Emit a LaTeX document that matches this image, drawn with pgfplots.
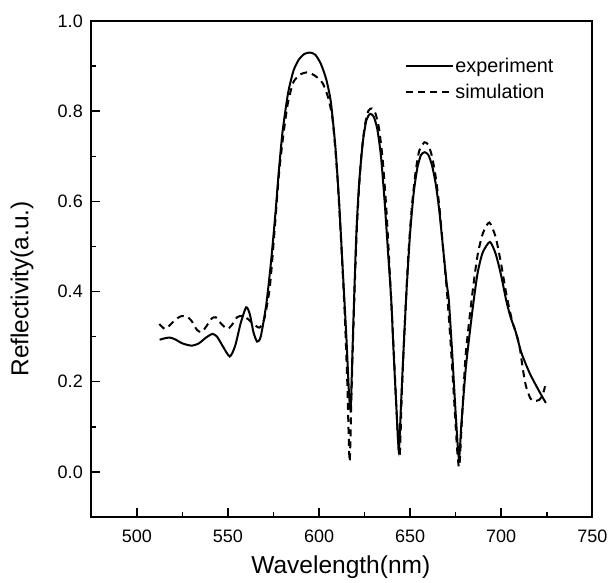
\documentclass[border=0pt]{standalone}
\usepackage{pgfplots}
\pgfplotsset{compat=1.18}
\usepackage{fontspec}
\setmainfont{Liberation Sans}
\begin{document}
\begin{tikzpicture}
\useasboundingbox (-91.3pt,-66pt) rectangle (516.7pt,517pt);
\begin{axis}[
  at={(0pt,0pt)}, anchor=south west,
  scale only axis, width=501pt, height=496pt,
  xmin=475, xmax=750, ymin=-0.1, ymax=1.0,
  xtick={500,550,600,650,700,750},
  ytick={0,0.2,0.4,0.6,0.8,1.0},
  minor x tick num=1, minor y tick num=1,
  tick pos=left, tick align=inside,
  major tick length=8.5pt, minor tick length=4.5pt,
  every tick/.style={line width=1.5pt, black},
  axis line style={line width=2pt},
  /pgf/number format/assume math mode=true,
  ticklabel style={font=\fontsize{18}{20}\selectfont},
  yticklabel style={/pgf/number format/fixed,/pgf/number format/fixed zerofill,/pgf/number format/precision=1, xshift=-5pt},
  xticklabel style={/pgf/number format/1000 sep={}, yshift=-9pt},
  xlabel={Wavelength(nm)}, ylabel={Reflectivity(a.u.)},
  label style={font=\fontsize{24.5}{27}\selectfont},
  xlabel style={at={(axis description cs:0.498,-0.101)}, anchor=center},
  ylabel style={at={(axis description cs:-0.138,0.46)}, anchor=center, rotate=0},
  legend style={at={(axis description cs:0.925,0.928)}, anchor=north east, draw=none, fill=none,
    font=\fontsize{19.8}{21}\selectfont, row sep=8pt, inner sep=0pt, nodes={inner sep=1.2pt}},
  legend cell align=left,
  legend image code/.code={\draw[#1] (0pt,0pt) -- (47pt,0pt);},
]
\addplot[black, line width=2pt, smooth, tension=0.4] coordinates {
(512.5,0.293) (515,0.296) (518,0.298) (521,0.294) (525,0.285) (530,0.280)
(534,0.285) (538,0.298) (541.5,0.306) (544,0.300) (547,0.280) (551,0.256)
(554,0.280) (557,0.330) (560,0.365) (562,0.350) (564,0.310) (566,0.289)
(568,0.300) (571,0.370) (573.5,0.460) (576,0.570) (578,0.670) (580,0.755)
(583,0.840) (586,0.890) (589,0.915) (592,0.927) (595,0.930) (598,0.925)
(601,0.905) (604,0.870) (606.5,0.820) (609,0.720) (611,0.600) (613,0.450)
(615,0.300) (616.5,0.170) (617.4,0.140) (618.3,0.260) (619.3,0.390) (620.5,0.530)
(622,0.640) (624,0.730) (626,0.780) (628,0.794) (630,0.788) (632,0.760)
(634,0.700) (636,0.600) (638,0.480) (639.6,0.383) (641,0.260) (642.5,0.140)
(643.8,0.048) (645,0.150) (646.5,0.280) (648,0.400) (650,0.530) (652,0.620)
(654,0.675) (656,0.703) (658,0.709) (660,0.703) (662,0.680) (664,0.640)
(666,0.580) (668,0.500) (670,0.420) (671.2,0.383) (673,0.270) (675,0.130)
(676.8,0.030) (678.2,0.110) (680.7,0.236) (684.3,0.361) (687,0.440) (689.8,0.486)
(693.8,0.510) (697,0.483) (700,0.435) (702.6,0.383) (705,0.345) (708,0.310)
(711,0.265) (715.4,0.221) (720,0.185) (724.5,0.153)
};
\addlegendentry{experiment}
\addplot[black, line width=2pt, dash pattern=on 7pt off 5pt, smooth, tension=0.4] coordinates {
(512.3,0.328) (515.4,0.317) (518,0.325) (521,0.337) (524,0.345) (527.3,0.345)
(530,0.335) (533,0.315) (535.5,0.310) (538,0.322) (541,0.340) (543.3,0.343)
(546,0.330) (549.5,0.317) (552,0.325) (555,0.343) (558,0.346) (561,0.339)
(564,0.328) (567.4,0.320) (570,0.340) (573,0.410) (575.7,0.540) (578,0.660)
(580.5,0.750) (583,0.820) (586,0.865) (590,0.882) (594,0.886) (598,0.878)
(602,0.862) (605,0.830) (607.5,0.780) (610,0.660) (612,0.520) (614,0.360)
(615.5,0.200) (616.8,0.023) (618,0.200) (619.5,0.400) (621,0.560) (623,0.690)
(625,0.765) (627,0.800) (629,0.806) (631,0.795) (633,0.760) (635,0.690)
(637,0.580) (639,0.430) (641,0.270) (642.5,0.140) (644.2,0.033) (645.5,0.180)
(647,0.320) (649,0.480) (651,0.590) (653,0.665) (655,0.712) (657.9,0.731)
(660,0.725) (662,0.700) (664,0.655) (666,0.590) (668,0.500) (670,0.410)
(672,0.300) (674,0.170) (675.8,0.050) (677,0.011) (678.5,0.120) (680.5,0.260)
(684,0.390) (687,0.480) (690,0.530) (693.5,0.553) (697,0.520) (700,0.460)
(703,0.390) (706,0.335) (708,0.310) (710,0.280) (712,0.225) (713.6,0.190)
(716,0.163) (718,0.157) (721,0.160) (722.8,0.172) (724.1,0.190)
};
\addlegendentry{simulation}
\end{axis}
\end{tikzpicture}
\end{document}
